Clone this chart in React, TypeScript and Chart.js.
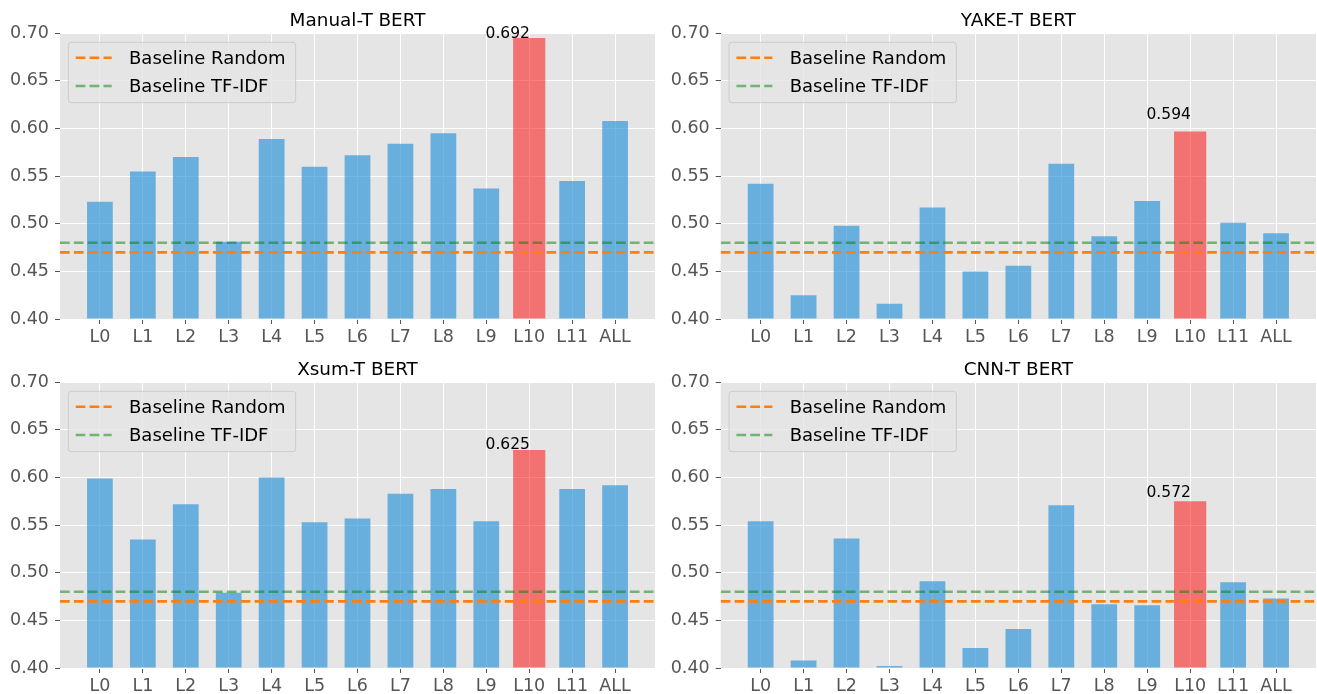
import React, { useEffect, useRef } from 'react';
import { Chart, registerables } from 'chart.js';

Chart.register(...registerables);

// ---------- data ----------
const CATEGORIES = ['L0', 'L1', 'L2', 'L3', 'L4', 'L5', 'L6', 'L7', 'L8', 'L9', 'L10', 'L11', 'ALL'];

const MANUAL_T = [0.523, 0.555, 0.570, 0.481, 0.589, 0.560, 0.572, 0.584, 0.595, 0.537, 0.695, 0.545, 0.608];
const YAKE_T = [0.542, 0.425, 0.498, 0.416, 0.517, 0.450, 0.456, 0.563, 0.487, 0.524, 0.597, 0.501, 0.490];
const XSUM_T = [0.599, 0.535, 0.572, 0.479, 0.600, 0.553, 0.557, 0.583, 0.588, 0.554, 0.629, 0.588, 0.592];
const CNN_T = [0.554, 0.408, 0.536, 0.402, 0.491, 0.421, 0.441, 0.571, 0.467, 0.466, 0.575, 0.490, 0.473];

const TITLES = ['Manual-T BERT', 'YAKE-T BERT', 'Xsum-T BERT', 'CNN-T BERT'];
const BEST_LABELS = ['0.692', '0.594', '0.625', '0.572'];
const BEST_LABEL_ANCHORS = [0.695, 0.610, 0.630, 0.580];

const BASELINE_RANDOM = 0.47;
const BASELINE_TFIDF = 0.48;
const LEGEND_LABELS = ['Baseline Random', 'Baseline TF-IDF'];

const Y_TICKS = [0.40, 0.45, 0.50, 0.55, 0.60, 0.65, 0.70];
const HIGHLIGHT = 10;

// ---------- style / layout ----------
const FONT = "'DejaVu Sans', 'Liberation Sans', sans-serif";
const X_MIN = -0.93;
const X_MAX = 12.93;
const BLUE = 'rgba(52,152,219,0.7)';
const RED = 'rgba(255,0,0,0.5)';
const ORANGE = '#ff7f0e';
const GREEN = 'rgba(0,128,0,0.5)';
const AXES_BG = '#E5E5E5';
const TICK_COLOR = '#555555';
const DASH = [9.7, 4.2];
const LINE_W = 2.6;

const PANEL_LAYOUT = [
  { left: 0, top: 0, w: 658, h: 347, area: { l: 60, t: 33.3, r: 655, b: 319 } },
  { left: 658, top: 0, w: 659, h: 347, area: { l: 62.7, t: 33.3, r: 658, b: 319 } },
  { left: 0, top: 347, w: 658, h: 347, area: { l: 60, t: 35.3, r: 655, b: 321 } },
  { left: 658, top: 347, w: 659, h: 347, area: { l: 62.7, t: 35.3, r: 658, b: 321 } },
];

const SERIES = [MANUAL_T, YAKE_T, XSUM_T, CNN_T];

function Panel({ idx }: { idx: number }) {
  const ref = useRef<HTMLCanvasElement>(null);
  const lay = PANEL_LAYOUT[idx];

  useEffect(() => {
    const values = SERIES[idx];
    const yW = lay.area.l;
    const xH = 26;

    const bgPlugin = {
      id: 'bg' + idx,
      beforeDraw(chart: any) {
        const { ctx, chartArea: ca } = chart;
        ctx.save();
        ctx.fillStyle = AXES_BG;
        ctx.fillRect(ca.left, ca.top, ca.right - ca.left, ca.bottom - ca.top);
        ctx.restore();
      },
    };

    const overlayPlugin = {
      id: 'overlay' + idx,
      afterDraw(chart: any) {
        const { ctx, chartArea: ca } = chart;
        const xs = chart.scales.x;
        const ys = chart.scales.y;
        ctx.save();
        // title
        ctx.fillStyle = '#000';
        ctx.font = `18.4px ${FONT}`;
        ctx.textAlign = 'center';
        ctx.textBaseline = 'alphabetic';
        ctx.fillText(TITLES[idx], (ca.left + ca.right) / 2, ca.top - 7.5);

        // best value annotation
        ctx.font = `15.5px ${FONT}`;
        ctx.fillText(
          BEST_LABELS[idx],
          xs.getPixelForValue(HIGHLIGHT - 0.5),
          ys.getPixelForValue(BEST_LABEL_ANCHORS[idx])
        );

        // legend
        const bx = ca.left + 8.3;
        const by = ca.top + 9;
        const bw = 227.4;
        const bh = 60.4;
        const r = 3;
        ctx.beginPath();
        ctx.moveTo(bx + r, by);
        ctx.lineTo(bx + bw - r, by);
        ctx.quadraticCurveTo(bx + bw, by, bx + bw, by + r);
        ctx.lineTo(bx + bw, by + bh - r);
        ctx.quadraticCurveTo(bx + bw, by + bh, bx + bw - r, by + bh);
        ctx.lineTo(bx + r, by + bh);
        ctx.quadraticCurveTo(bx, by + bh, bx, by + bh - r);
        ctx.lineTo(bx, by + r);
        ctx.quadraticCurveTo(bx, by, bx + r, by);
        ctx.closePath();
        ctx.fillStyle = 'rgba(229,229,229,0.8)';
        ctx.fill();
        ctx.strokeStyle = '#cccccc';
        ctx.lineWidth = 1;
        ctx.stroke();

        const colors = [ORANGE, GREEN];
        const lineYs = [24.4, 52.7];
        const textYs = [31, 58.4];
        ctx.font = `18px ${FONT}`;
        ctx.textAlign = 'left';
        for (let i = 0; i < 2; i++) {
          ctx.beginPath();
          ctx.setLineDash(DASH);
          ctx.strokeStyle = colors[i];
          ctx.lineWidth = LINE_W;
          ctx.moveTo(ca.left + 15.7, ca.top + lineYs[i]);
          ctx.lineTo(ca.left + 51.7, ca.top + lineYs[i]);
          ctx.stroke();
          ctx.setLineDash([]);
          ctx.fillStyle = '#000';
          ctx.fillText(LEGEND_LABELS[i], ca.left + 69, ca.top + textYs[i]);
        }
        ctx.restore();
      },
    };

    const chart = new Chart(ref.current as HTMLCanvasElement, {
      type: 'bar',
      data: {
        datasets: [
          {
            type: 'line',
            label: LEGEND_LABELS[0],
            data: [
              { x: X_MIN, y: BASELINE_RANDOM },
              { x: X_MAX, y: BASELINE_RANDOM },
            ],
            borderColor: ORANGE,
            borderWidth: LINE_W,
            borderDash: DASH,
            pointRadius: 0,
            order: 0,
          } as any,
          {
            type: 'line',
            label: LEGEND_LABELS[1],
            data: [
              { x: X_MIN, y: BASELINE_TFIDF },
              { x: X_MAX, y: BASELINE_TFIDF },
            ],
            borderColor: GREEN,
            borderWidth: LINE_W,
            borderDash: DASH,
            pointRadius: 0,
            order: 0,
          } as any,
          {
            type: 'bar',
            label: 'layers',
            data: values.map((v, i) => ({ x: i, y: i === HIGHLIGHT ? null : v })),
            backgroundColor: BLUE,
            barPercentage: 0.6,
            categoryPercentage: 1,
            grouped: false,
            base: Y_TICKS[0],
            order: 1,
          } as any,
          {
            type: 'bar',
            label: 'best',
            data: [{ x: HIGHLIGHT, y: values[HIGHLIGHT] }],
            backgroundColor: RED,
            barPercentage: 0.75,
            categoryPercentage: 1,
            grouped: false,
            base: Y_TICKS[0],
            order: 1,
          } as any,
        ],
      },
      options: {
        animation: false,
        responsive: false,
        maintainAspectRatio: false,
        devicePixelRatio: 1,
        layout: {
          padding: {
            left: lay.area.l - yW,
            top: lay.area.t,
            right: lay.w - lay.area.r,
            bottom: Math.max(0, lay.h - lay.area.b - xH),
          },
        },
        plugins: {
          legend: { display: false },
          tooltip: { enabled: false },
          title: { display: false },
        },
        scales: {
          x: {
            type: 'linear',
            min: X_MIN,
            max: X_MAX,
            offset: false,
            afterBuildTicks: (s: any) => {
              s.ticks = CATEGORIES.map((_, i) => ({ value: i }));
            },
            afterFit: (s: any) => {
              s.height = xH;
            },
            grid: {
              color: '#ffffff',
              lineWidth: 1,
              tickColor: TICK_COLOR,
              tickLength: 5,
              offset: false,
            },
            border: { display: false },
            ticks: {
              callback: (v: any) => CATEGORIES[Math.round(Number(v))] ?? '',
              color: TICK_COLOR,
              font: { family: FONT, size: 17.5 },
              padding: 3,
              autoSkip: false,
              maxRotation: 0,
              minRotation: 0,
            },
          },
          y: {
            type: 'linear',
            min: Y_TICKS[0],
            max: Y_TICKS[Y_TICKS.length - 1],
            afterBuildTicks: (s: any) => {
              s.ticks = Y_TICKS.map((v) => ({ value: v }));
            },
            afterFit: (s: any) => {
              s.width = yW;
            },
            grid: {
              color: '#ffffff',
              lineWidth: 1,
              tickColor: TICK_COLOR,
              tickLength: 5,
            },
            border: { display: false },
            ticks: {
              callback: (v: any) => Number(v).toFixed(2),
              color: TICK_COLOR,
              font: { family: FONT, size: 17.5 },
              padding: 6,
            },
          },
        },
      } as any,
      plugins: [bgPlugin, overlayPlugin],
    });
    return () => chart.destroy();
  }, [idx]);

  return (
    <canvas
      ref={ref}
      width={lay.w}
      height={lay.h}
      style={{ position: 'absolute', left: lay.left, top: lay.top, width: lay.w, height: lay.h }}
    />
  );
}

export default function App() {
  return (
    <div style={{ position: 'absolute', left: 0, top: 0, width: 1317, height: 694, background: '#ffffff' }}>
      {PANEL_LAYOUT.map((_, i) => (
        <Panel key={i} idx={i} />
      ))}
    </div>
  );
}
